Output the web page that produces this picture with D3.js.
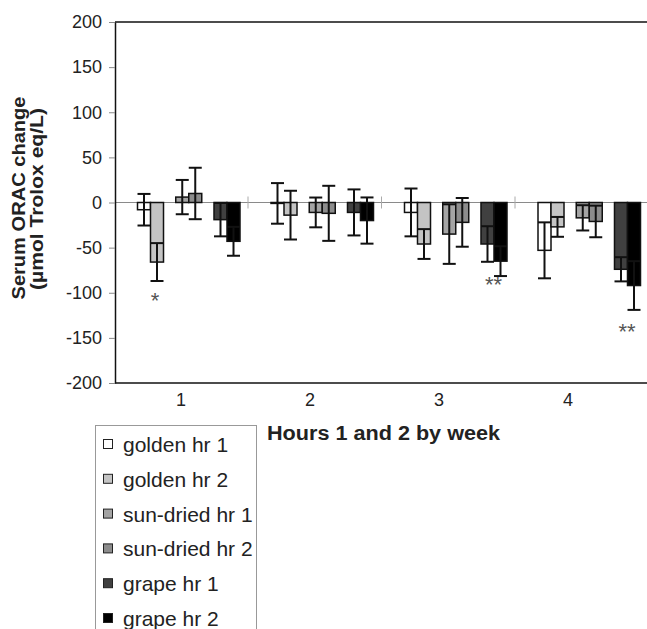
<!DOCTYPE html>
<html>
<head>
<meta charset="utf-8">
<script src="https://cdn.jsdelivr.net/npm/d3@7"></script>
<style>
  html, body { margin: 0; padding: 0; background: #fff; }
  svg { display: block; font-family: "Liberation Sans", Arial, sans-serif; }
</style>
</head>
<body>
<svg id="chart" width="647" height="629"></svg>
<script>
// Serum ORAC change by week, hours 1 and 2
var weeks = ['1', '2', '3', '4'];
var seriesNames = ['golden hr 1', 'golden hr 2', 'sun-dried hr 1', 'sun-dried hr 2', 'grape hr 1', 'grape hr 2'];
var pairs = ['golden', 'sun-dried', 'grape'];

var goldenHr1 = [-8, -1, -11, -53];
var goldenHr2 = [-66, -14, -46, -27];
var sunDriedHr1 = [6, -11, -35, -17];
var sunDriedHr2 = [10, -12, -22, -21];
var grapeHr1 = [-19, -11, -46, -74];
var grapeHr2 = [-43, -20, -65, -92];

var goldenHr1Sd = [17.5, 22.5, 26.5, 31];
var goldenHr2Sd = [21, 27, 16.5, 11];
var sunDriedHr1Sd = [19, 16.5, 33, 14];
var sunDriedHr2Sd = [28.5, 30.5, 27, 17.5];
var grapeHr1Sd = [18.5, 25.5, 19.7, 13.4];
var grapeHr2Sd = [16, 25.6, 16.5, 27];

var yTicks = [-200, -150, -100, -50, 0, 50, 100, 150, 200];

// significance marks: week, series, mark, value where the mark sits
var sigWeeks = ['1', '3', '4'];
var sigSeries = ['golden hr 2', 'grape hr 2', 'grape hr 2'];
var sigMarks = ['*', '**', '**'];
var sigValues = [-104, -86, -138];

(function () {
  'use strict';

  var fills = ['#ffffff', '#c4c4c4', '#a4a4a4', '#8c8c8c', '#404040', '#000000'];
  var means = [goldenHr1, goldenHr2, sunDriedHr1, sunDriedHr2, grapeHr1, grapeHr2];
  var sds = [goldenHr1Sd, goldenHr2Sd, sunDriedHr1Sd, sunDriedHr2Sd, grapeHr1Sd, grapeHr2Sd];

  var left = 115, right = 648.5, top = 22, bottom = 383;

  var svg = d3.select('#chart');

  var y = d3.scaleLinear().domain([-200, 200]).range([bottom, top]);
  var x0 = d3.scaleBand().domain(weeks).range([left - 0.5, right]).padding(0);
  var xPair = d3.scaleBand().domain(pairs).range([23, 125.5]).paddingInner(0.32).paddingOuter(0);
  var barW = xPair.bandwidth() / 2;
  // the week labels sit on a slightly narrower spacing than the bars in the figure
  var xLabel = d3.scaleBand().domain(weeks).range([116.5, 632.5]);

  function barX(week, si) {
    return x0(week) + xPair(pairs[Math.floor(si / 2)]) + (si % 2) * barW;
  }

  var rows = [];
  seriesNames.forEach(function (name, si) {
    weeks.forEach(function (w, wi) {
      rows.push({ week: w, si: si, mean: means[si][wi], sd: sds[si][wi] });
    });
  });

  // zero line and week separators
  svg.append('line')
    .attr('x1', left).attr('x2', right)
    .attr('y1', y(0)).attr('y2', y(0))
    .attr('stroke', '#8a8a8a').attr('stroke-width', 1);

  svg.append('g').selectAll('line')
    .data(weeks.slice(1))
    .join('line')
    .attr('x1', function (d) { return x0(d); })
    .attr('x2', function (d) { return x0(d); })
    .attr('y1', y(0) - 6).attr('y2', y(0) + 6)
    .attr('stroke', '#aaa').attr('stroke-width', 1);

  // bars
  svg.append('g').selectAll('rect')
    .data(rows)
    .join('rect')
    .attr('x', function (d) { return barX(d.week, d.si); })
    .attr('width', barW)
    .attr('y', function (d) { return y(Math.max(0, d.mean)); })
    .attr('height', function (d) { return Math.abs(y(d.mean) - y(0)); })
    .attr('fill', function (d) { return fills[d.si]; })
    .attr('stroke', '#111')
    .attr('stroke-width', 1.5);

  // error bars
  var err = svg.append('g')
    .attr('stroke', '#111')
    .attr('stroke-width', 2)
    .selectAll('g')
    .data(rows)
    .join('g')
    .attr('transform', function (d) { return 'translate(' + (barX(d.week, d.si) + barW / 2) + ',0)'; });

  err.append('line')
    .attr('x1', 0).attr('x2', 0)
    .attr('y1', function (d) { return y(d.mean + d.sd); })
    .attr('y2', function (d) { return y(d.mean - d.sd); });
  err.append('line')
    .attr('x1', -6.5).attr('x2', 6.5)
    .attr('y1', function (d) { return y(d.mean + d.sd); })
    .attr('y2', function (d) { return y(d.mean + d.sd); });
  err.append('line')
    .attr('x1', -6.5).attr('x2', 6.5)
    .attr('y1', function (d) { return y(d.mean - d.sd); })
    .attr('y2', function (d) { return y(d.mean - d.sd); });

  // significance asterisks
  svg.append('g').selectAll('text')
    .data(sigWeeks)
    .join('text')
    .attr('x', function (d, i) {
      var si = seriesNames.indexOf(sigSeries[i]);
      return barX(d, si) + barW / 2 + (sigMarks[i].length > 1 ? -7 : -2);
    })
    .attr('y', function (d, i) { return y(sigValues[i]) + 12; })
    .attr('text-anchor', 'middle')
    .attr('font-size', '22px')
    .attr('fill', '#555')
    .text(function (d, i) { return sigMarks[i]; });

  // plot frame
  svg.append('line')
    .attr('x1', left).attr('x2', right).attr('y1', top).attr('y2', top)
    .attr('stroke', '#111').attr('stroke-width', 1.5);
  svg.append('line')
    .attr('x1', left).attr('x2', right).attr('y1', bottom).attr('y2', bottom)
    .attr('stroke', '#111').attr('stroke-width', 1.5);

  // y axis
  var yAxis = svg.append('g')
    .attr('transform', 'translate(' + left + ',0)')
    .call(d3.axisLeft(y).tickValues(yTicks).tickSize(6).tickSizeOuter(0).tickPadding(7)
      .tickFormat(function (d) { return String(d); }));
  yAxis.select('.domain').attr('stroke', '#111').attr('stroke-width', 1.5);
  yAxis.selectAll('.tick line').attr('stroke', '#888');
  yAxis.selectAll('.tick text')
    .attr('font-size', '18px')
    .attr('font-family', '"Liberation Sans", Arial, sans-serif')
    .attr('fill', '#222');

  // week labels
  var xAxis = svg.append('g')
    .attr('transform', 'translate(0,' + bottom + ')')
    .call(d3.axisBottom(xLabel).tickSize(0).tickPadding(10));
  xAxis.select('.domain').remove();
  xAxis.selectAll('.tick text')
    .attr('font-size', '18px')
    .attr('font-family', '"Liberation Sans", Arial, sans-serif')
    .attr('fill', '#222');

  // axis titles
  svg.append('text')
    .attr('transform', 'translate(25,198) rotate(-90)')
    .attr('text-anchor', 'middle')
    .attr('font-size', '18px')
    .attr('font-weight', 'bold')
    .attr('fill', '#222')
    .attr('textLength', 203)
    .attr('lengthAdjust', 'spacingAndGlyphs')
    .text('Serum ORAC change');
  svg.append('text')
    .attr('transform', 'translate(43,199) rotate(-90)')
    .attr('text-anchor', 'middle')
    .attr('font-size', '18px')
    .attr('font-weight', 'bold')
    .attr('fill', '#222')
    .attr('textLength', 182)
    .attr('lengthAdjust', 'spacingAndGlyphs')
    .text('(\u00b5mol Trolox eq/L)');

  svg.append('text')
    .attr('x', 383.5)
    .attr('y', 440)
    .attr('text-anchor', 'middle')
    .attr('font-size', '20px')
    .attr('font-weight', 'bold')
    .attr('fill', '#222')
    .attr('textLength', 233)
    .attr('lengthAdjust', 'spacingAndGlyphs')
    .text('Hours 1 and 2 by week');

  // legend
  var legend = svg.append('g');
  legend.append('rect')
    .attr('x', 95.5).attr('y', 425.5)
    .attr('width', 161).attr('height', 230)
    .attr('fill', '#fff')
    .attr('stroke', '#999');

  var item = legend.selectAll('g.item')
    .data(seriesNames)
    .join('g')
    .attr('class', 'item')
    .attr('transform', function (d, i) { return 'translate(103,' + (444 + i * 34.8) + ')'; });

  item.append('rect')
    .attr('x', 0.5).attr('y', -4.5)
    .attr('width', 9).attr('height', 9)
    .attr('fill', function (d, i) { return fills[i]; })
    .attr('stroke', '#222')
    .attr('stroke-width', 1);

  item.append('text')
    .attr('x', 20)
    .attr('y', 8)
    .attr('font-size', '21px')
    .attr('fill', '#222')
    .text(function (d) { return d; });
})();
</script>
</body>
</html>
